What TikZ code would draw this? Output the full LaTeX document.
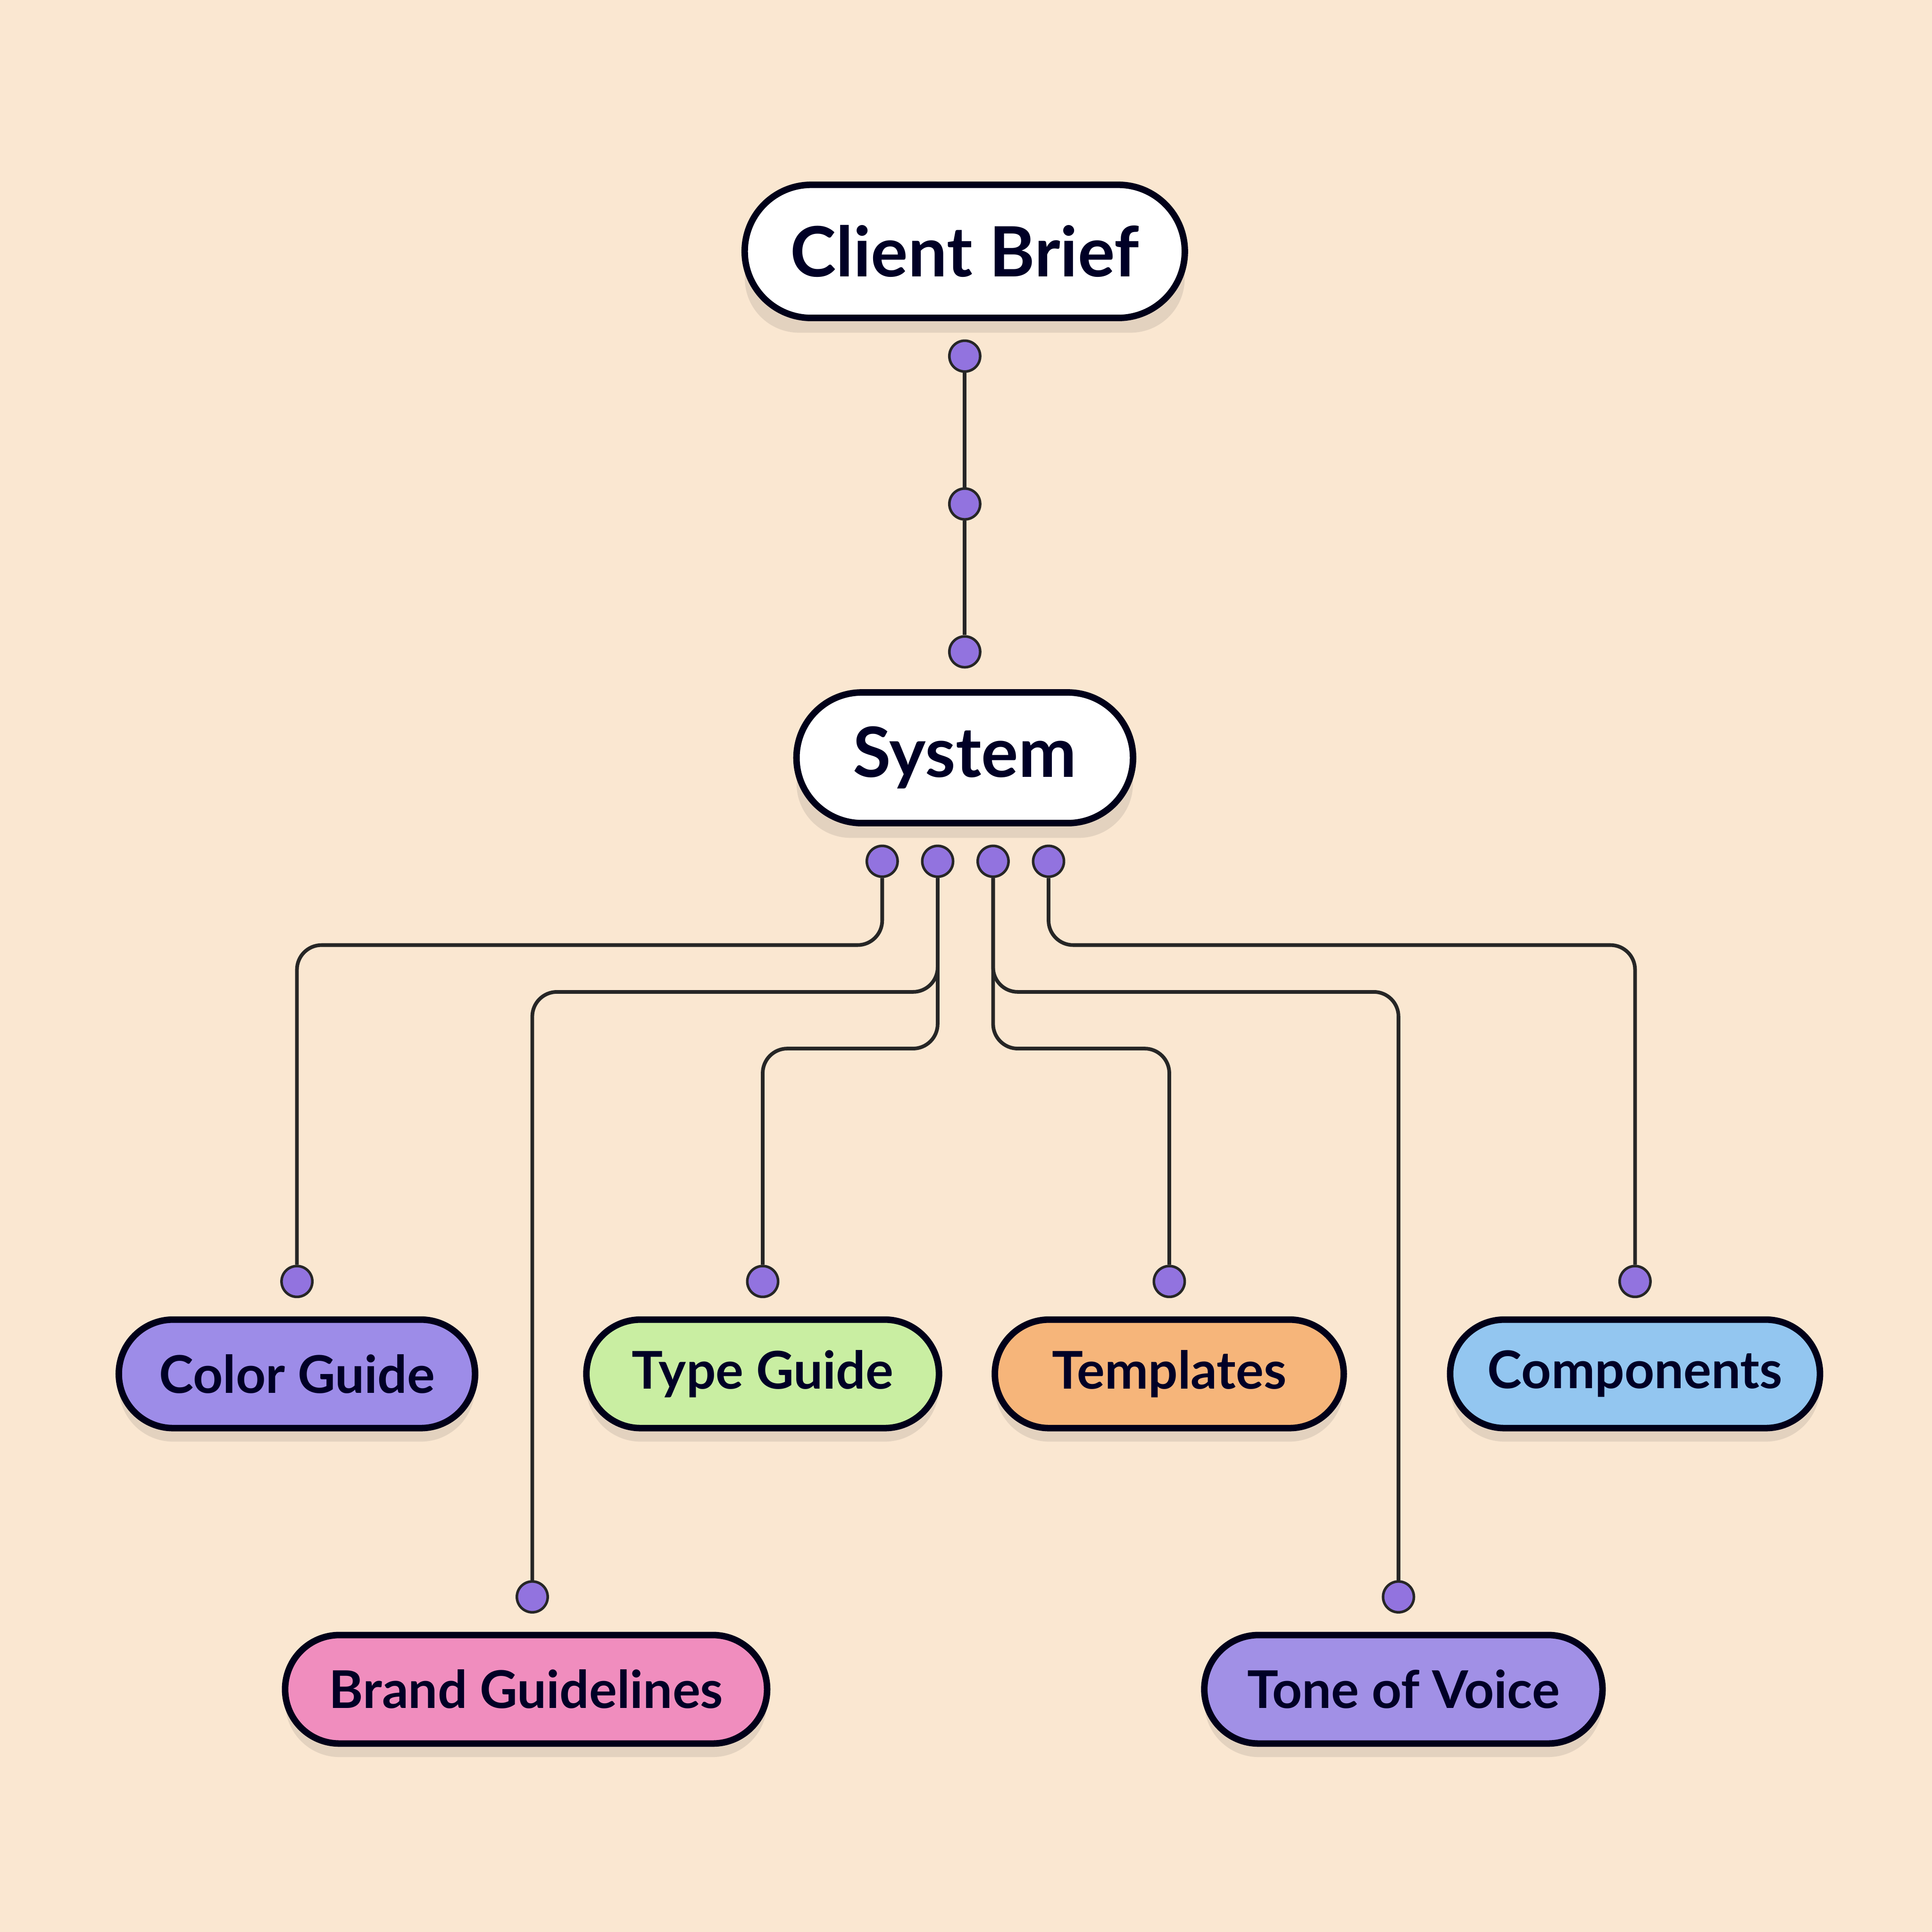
\documentclass[tikz,border=0pt]{standalone}
\usepackage{fontspec}
\setmainfont{Lato}
\begin{document}
\begin{tikzpicture}[x=0.01cm,y=-0.01cm,
  box/.style={draw=black!90!blue,line width=1.5pt,rounded corners=#1,inner sep=0pt,font=\bfseries,text=black!85!blue},
  dot/.style={circle,fill=violet!45!blue!55,draw=black!85,line width=0.6pt,minimum size=0.25cm,inner sep=0pt},
  conn/.style={draw=black!85,line width=0.85pt,rounded corners=0.2cm}]
\definecolor{bgc}{HTML}{FAE7D1}
\definecolor{shc}{HTML}{E3D2BF}
\fill[bgc] (0,0) rectangle (1568,1568);
\useasboundingbox (0,0) rectangle (1568,1568);
\definecolor{cg}{HTML}{9D8CE8}
\definecolor{tg}{HTML}{C9EEA2}
\definecolor{tp}{HTML}{F6B57A}
\definecolor{cp}{HTML}{93C6F0}
\definecolor{bg}{HTML}{F08DBE}
\definecolor{tv}{HTML}{A190E6}
% shadows
\foreach \x/\y/\w/\h in {783/216/357/108, 783/627/273/106, 241/1126/289/88, 619/1126/286/88, 949/1126/283/88, 1327/1126/300/88, 427/1382/391/88, 1139/1382/323/88}
  \fill[shc, rounded corners=0.44cm] (\x-\w/2,\y-\h/2) rectangle (\x+\w/2,\y+\h/2);
\node[box=0.54cm,fill=white,minimum width=3.57cm,minimum height=1.08cm,font=\bfseries\fontsize{16}{19}\selectfont] (cb) at (783,204) {Client Brief};
\node[box=0.53cm,fill=white,minimum width=2.73cm,minimum height=1.06cm,font=\bfseries\fontsize{16}{19}\selectfont] (sys) at (783,615) {System};
\node[box=0.44cm,fill=cg,minimum width=2.89cm,minimum height=0.88cm,font=\bfseries\fontsize{12}{14}\selectfont] (col) at (241,1115) {Color Guide};
\node[box=0.44cm,fill=tg,minimum width=2.86cm,minimum height=0.88cm,font=\bfseries\fontsize{12}{14}\selectfont] (typ) at (619,1115) {Type Guide};
\node[box=0.44cm,fill=tp,minimum width=2.83cm,minimum height=0.88cm,font=\bfseries\fontsize{12}{14}\selectfont] (tem) at (949,1115) {Templates};
\node[box=0.44cm,fill=cp,minimum width=3.00cm,minimum height=0.88cm,font=\bfseries\fontsize{12}{14}\selectfont] (com) at (1327,1115) {Components};
\node[box=0.44cm,fill=bg,minimum width=3.91cm,minimum height=0.88cm,font=\bfseries\fontsize{12}{14}\selectfont] (bra) at (427,1371) {Brand Guidelines};
\node[box=0.44cm,fill=tv,minimum width=3.23cm,minimum height=0.88cm,font=\bfseries\fontsize{12}{14}\selectfont] (ton) at (1139,1371) {Tone of Voice};
% dots
\node[dot] (d1) at (783,289) {};
\node[dot] (d2) at (783,409) {};
\node[dot] (d3) at (783,529) {};
\node[dot] (s1) at (716,699) {};
\node[dot] (s2) at (761,699) {};
\node[dot] (s3) at (806,699) {};
\node[dot] (s4) at (851,699) {};
\node[dot] (ecol) at (241,1040) {};
\node[dot] (etyp) at (619,1040) {};
\node[dot] (etem) at (949,1040) {};
\node[dot] (ecom) at (1327,1040) {};
\node[dot] (ebra) at (432,1296) {};
\node[dot] (eton) at (1135,1296) {};
% connectors
\draw[conn] (d1) -- (d2);
\draw[conn] (d2) -- (d3);
\draw[conn] (s1) |- (400,767) -| (ecol);
\draw[conn] (s2) |- (600,805) -| (ebra);
\draw[conn] (s2) |- (700,851) -| (etyp);
\draw[conn] (s3) |- (900,851) -| (etem);
\draw[conn] (s3) |- (1000,805) -| (eton);
\draw[conn] (s4) |- (1100,767) -| (ecom);
\end{tikzpicture}
\end{document}
